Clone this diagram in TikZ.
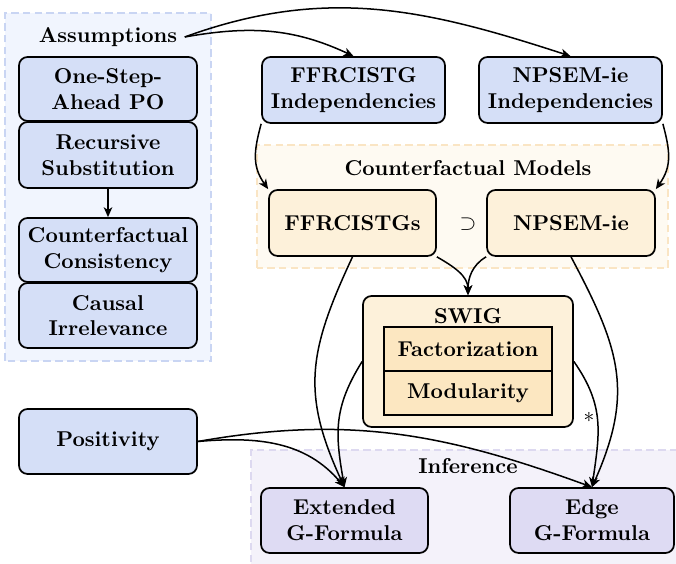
\documentclass[tikz,border=0pt]{standalone}
\usetikzlibrary{arrows.meta}

\definecolor{asmfill}{HTML}{D5DFF7}
\definecolor{asmback}{HTML}{F1F5FE}
\definecolor{asmline}{HTML}{C9D5F3}
\definecolor{mdlfill}{HTML}{FDF1DA}
\definecolor{cellfill}{HTML}{FCE7C1}
\definecolor{mdlback}{HTML}{FEFAF2}
\definecolor{mdlline}{HTML}{FAE5C4}
\definecolor{inffill}{HTML}{DEDBF3}
\definecolor{infback}{HTML}{F4F2FA}
\definecolor{infline}{HTML}{DDD9F0}

\def\pxu{0.466pt}

\begin{document}
\begin{tikzpicture}[x=0.466pt, y=0.466pt,
  >={Stealth[length=4.6pt,width=4pt,inset=1.3pt]},
  blk/.style={draw, line width=0.8pt, rounded corners=4pt, font=\bfseries, align=center, inner sep=1pt},
  sz/.style 2 args={minimum width=#1*\pxu, minimum height=#2*\pxu},
  asm/.style={blk, fill=asmfill},
  mdl/.style={blk, fill=mdlfill},
  inf/.style={blk, fill=inffill},
  cell/.style={draw, line width=0.8pt, fill=cellfill, font=\bfseries, inner sep=1pt},
  grp/.style={dash pattern=on 3.5pt off 2pt, line width=0.5pt},
  lbl/.style={font=\bfseries},
  link/.style={->, line width=0.7pt},
]
\useasboundingbox (0,0) rectangle (676,564);
\clip (0,0) rectangle (676,564);

% group backgrounds
\draw[grp, draw=asmline, fill=asmback] (5,203) rectangle (211,551);
\draw[grp, draw=mdlline, fill=mdlback] (257,296) rectangle (668,419);
\draw[grp, draw=infline, fill=infback] (251,-10) rectangle (690,114);

% assumptions
\node[lbl] (asmlbl) at (108,527) {Assumptions};
\node[asm, sz={178}{64}] (osa) at (108,475) {One-Step-\\Ahead PO};
\node[asm, sz={178}{66}] (rs) at (108,409) {Recursive\\Substitution};
\node[asm, sz={178}{64}] (cc) at (108,314) {Counterfactual\\Consistency};
\node[asm, sz={178}{65}] (ci) at (108,248.5) {Causal\\Irrelevance};
\node[asm, sz={178}{65}] (pos) at (108,122.5) {Positivity};

% independencies
\node[asm, sz={183}{66}] (fi) at (353.5,474) {FFRCISTG\\Independencies};
\node[asm, sz={183}{66}] (ni) at (570.5,474) {NPSEM-ie\\Independencies};

% counterfactual models
\node[lbl] (cmlbl) at (468,396) {Counterfactual Models};
\node[mdl, sz={167}{66}] (ffs) at (352.5,341) {FFRCISTGs};
\node[mdl, sz={168}{66}] (nps) at (571,341) {NPSEM-ie};
\node (incl) at (468,340) {$\supset$};

% SWIG
\node[mdl, sz={210}{131}] (swig) at (468,202.5) {};
\node[lbl] (swiglbl) at (468,248) {SWIG};
\node[cell, sz={168}{44}] (fact) at (468,215) {Factorization};
\node[cell, sz={168}{44}] (mod) at (468,171) {Modularity};

% inference
\node[lbl] (inflbl) at (468,98) {Inference};
\node[inf, sz={167}{65}] (ext) at (344.5,43.5) {Extended\\G-Formula};
\node[inf, sz={164}{65}] (edge) at (592,43.5) {Edge\\G-Formula};
\node (star) at (589,144) {*};

% connectors
\draw[link] (rs.south) -- (cc.north);
\draw[link] (asmlbl.east) to[out=10, in=155] (fi.north);
\draw[link] (asmlbl.east) to[out=20, in=162] (ni.north);
\draw[link] (fi.south west) to[out=-105, in=125, looseness=1.1] (ffs.north west);
\draw[link] (ni.south east) to[out=-75, in=55, looseness=1.1] (nps.north east);
\draw[link] (ffs.south east) to[out=-30, in=90] (swig.north);
\draw[link] (nps.south west) to[out=-150, in=90] (swig.north);
\draw[link] (ffs.south) to[out=-115, in=115, looseness=1.15] (ext.north);
\draw[link] (nps.south) to[out=-62, in=66, looseness=1.15] (edge.north);
\draw[link] (swig.west) to[out=-122, in=100, looseness=1.1] (ext.north);
\draw[link] (swig.east) to[out=-55, in=82, looseness=1.1] (edge.north);
\draw[link] (pos.east) to[out=5, in=130] (ext.north);
\draw[link] (pos.east) to[out=10, in=160] (edge.north);
\end{tikzpicture}
\end{document}
